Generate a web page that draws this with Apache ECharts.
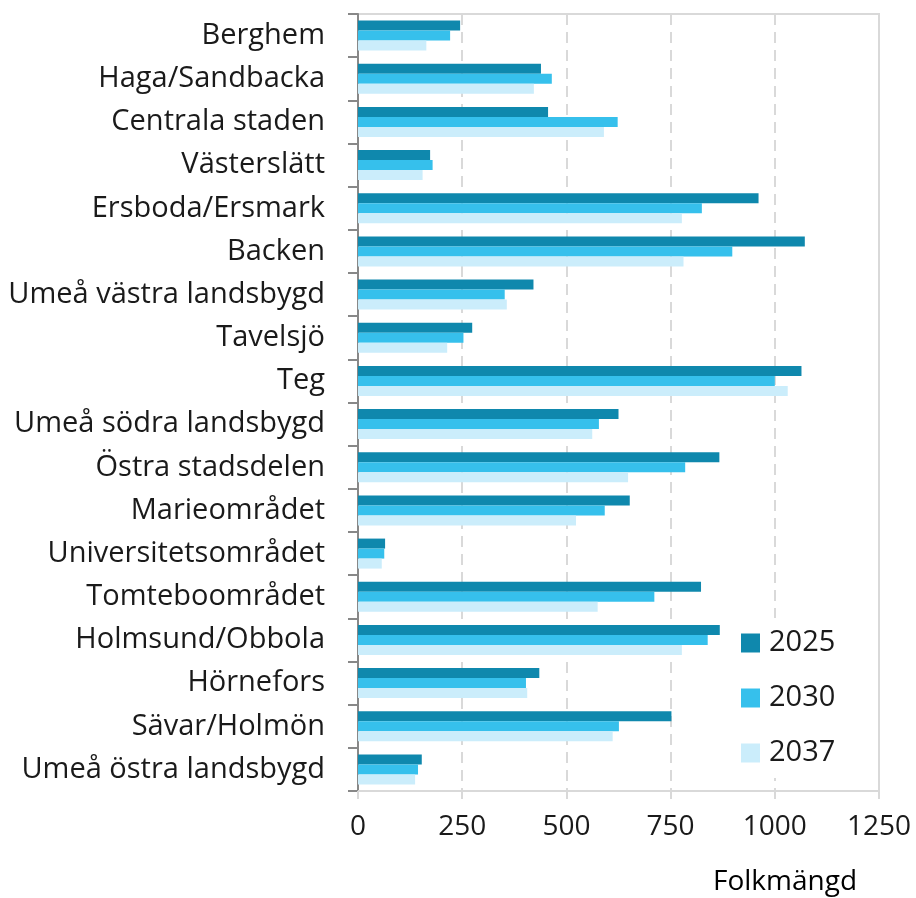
<!DOCTYPE html>
<html>
<head>
<meta charset="utf-8">
<script src="https://cdn.jsdelivr.net/npm/echarts@6/dist/echarts.min.js"></script>
<style>html,body{margin:0;padding:0;background:#fff}#c{width:916px;height:898px}</style>
</head>
<body>
<div id="c"></div>
<script>
const categories = ["Berghem","Haga/Sandbacka","Centrala staden","Västerslätt","Ersboda/Ersmark","Backen","Umeå västra landsbygd","Tavelsjö","Teg","Umeå södra landsbygd","Östra stadsdelen","Marieområdet","Universitetsområdet","Tomteboområdet","Holmsund/Obbola","Hörnefors","Sävar/Holmön","Umeå östra landsbygd"];
const seriesNames = ["2025","2030","2037"];
const v2025 = [245,439,456,173,961,1072,421,274,1064,625,867,652,65,823,868,435,752,153];
const v2030 = [221,465,623,179,825,898,352,253,1000,578,785,592,63,711,839,403,626,144];
const v2037 = [164,422,590,155,777,781,357,214,1031,562,648,523,57,575,777,406,611,137];
const xTicks = [0,250,500,750,1000,1250];
const axisTitle = "Folkmängd";

const colors = ["#0F88AD","#36C0EC","#CBEDFB"];
const font = "'Open Sans', Lato, sans-serif";
const chart = echarts.init(document.getElementById('c'));
const vals = [v2025, v2030, v2037];
chart.setOption({
  animation: false,
  grid: {left: 358, right: 37, top: 14, bottom: 107, show: true, borderColor: '#d9d9d9', borderWidth: 2, containLabel: false},
  legend: {
    orient: 'vertical', left: 731, top: 618,
    data: seriesNames,
    itemWidth: 19, itemHeight: 19, itemGap: 25,
    backgroundColor: '#fff', padding: [10, 12, 10, 10],
    icon: 'rect',
    textStyle: {fontFamily: font, fontSize: 29, color: '#1a1a1a', lineHeight: 30, padding: [0,0,0,4]}
  },
  xAxis: {
    type: 'value', min: xTicks[0], max: xTicks[xTicks.length-1], interval: 250,
    axisLine: {show: true, lineStyle: {color: '#d9d9d9', width: 2}},
    axisTick: {show: true, length: 8, lineStyle: {color: '#d9d9d9', width: 2}},
    splitLine: {show: true, lineStyle: {color: '#d9d9d9', width: 2, type: [11, 7]}},
    axisLabel: {fontFamily: font, fontSize: 28, color: '#1a1a1a', margin: 22, formatter: v => String(v)}
  },
  yAxis: {
    type: 'category', data: categories, inverse: true,
    axisLine: {show: true, lineStyle: {color: '#888', width: 2}},
    axisTick: {show: true, length: 10, lineStyle: {color: '#888', width: 2}},
    axisLabel: {fontFamily: font, fontSize: 29, color: '#1a1a1a', margin: 33}
  },
  graphic: [{type: 'text', left: 713, top: 868, style: {text: axisTitle, font: "28px " + font, fill: '#000'}}],
  series: seriesNames.map((n, i) => ({
    name: n, type: 'bar', data: vals[i], barWidth: 10, barGap: '0%',
    itemStyle: {color: colors[i]}
  }))
});
</script>
</body>
</html>
